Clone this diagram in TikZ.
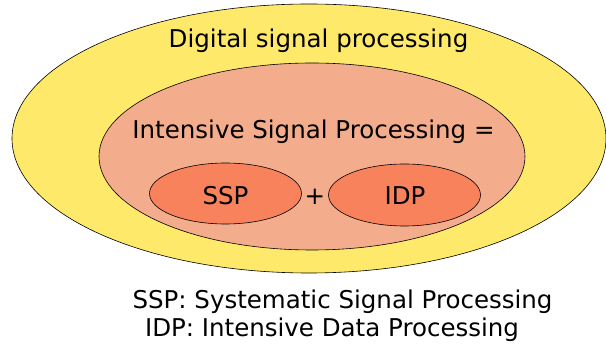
\documentclass[tikz,border=0pt]{standalone}
\usepackage{fontspec}
\setmainfont{DejaVu Sans}
\definecolor{dspyellow}{RGB}{255,233,106}
\definecolor{ispsalmon}{RGB}{243,172,140}
\definecolor{subor}{RGB}{247,130,92}
\begin{document}
\begin{tikzpicture}[x=1pt,y=-1pt,
  blob/.style={draw=black,line width=0.6pt},
  lbl/.style={font=\fontsize{24.5}{28}\selectfont,inner sep=0pt,anchor=base}]
\useasboundingbox (0,0) rectangle (606,344);
\draw[blob,fill=dspyellow] (309,138.5) ellipse [x radius=297,y radius=134.5];
\draw[blob,fill=ispsalmon] (312,156.5) ellipse [x radius=213,y radius=93.5];
\draw[blob,fill=subor] (225.5,193.5) ellipse [x radius=76,y radius=30.5];
\draw[blob,fill=subor] (404.5,195) ellipse [x radius=76,y radius=31];
\node[lbl] (dsp) at (318.5,48) {Digital signal processing};
\node[lbl] (isp) at (313.5,139) {Intensive Signal Processing =};
\node[lbl] (ssp) at (225.5,205) {SSP};
\node[lbl] (plus) at (315,205) {+};
\node[lbl] (idp) at (405,205) {IDP};
\node[lbl] (l1) at (342.5,309) {SSP: Systematic Signal Processing};
\node[lbl] (l2) at (332,337) {IDP: Intensive Data Processing};
\end{tikzpicture}
\end{document}
